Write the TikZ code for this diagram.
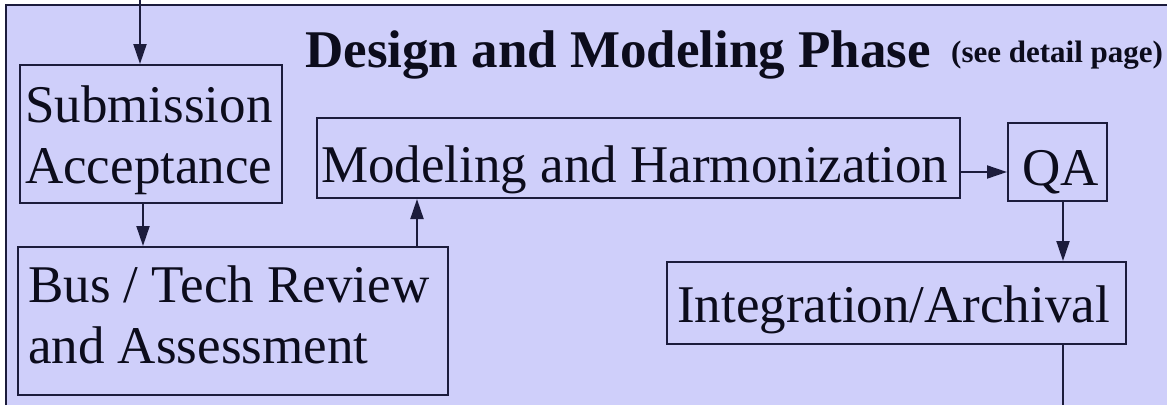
\documentclass[tikz,border=0pt]{standalone}
\usepackage{fontspec}
\setmainfont{Liberation Serif}
\usetikzlibrary{arrows.meta}
\definecolor{bgclr}{RGB}{207,207,250}
\definecolor{lineclr}{RGB}{28,28,60}
\definecolor{txtclr}{RGB}{12,12,28}
\begin{document}
\begin{tikzpicture}[x=1pt,y=-1pt,
  box/.style={draw=lineclr, line width=2pt, rectangle, inner sep=0pt},
  lbl/.style={text=txtclr, inner sep=0pt, anchor=base west, font=\fontsize{53}{61}\selectfont},
  arr/.style={draw=lineclr, line width=2pt, -{Triangle[length=20pt,width=13pt]}},
  plain/.style={draw=lineclr, line width=2pt}]
\fill[white] (0,0) rectangle (1167,405);
\useasboundingbox (0,0) rectangle (1167,405);
\fill[bgclr] (6,5) rectangle (1167,405);
\draw[plain] (6,405) -- (6,5) -- (1167,5);
% boxes
\node[box, minimum width=262pt, minimum height=138pt] (sub) at (151,134) {};
\node[box, minimum width=430pt, minimum height=148pt] (bus) at (233,321) {};
\node[box, minimum width=643pt, minimum height=80pt] (mh) at (638.5,158) {};
\node[box, minimum width=99pt, minimum height=78pt] (qa) at (1057.5,162) {};
\node[box, minimum width=459pt, minimum height=82pt] (int) at (896.5,303) {};
% texts
\node[lbl] (subA) at (25,122) {Submission};
\node[lbl] (subB) at (25,183) {Acceptance};
\node[lbl] (busA) at (28,302) {Bus / Tech Review};
\node[lbl] (busB) at (28,363) {and Assessment};
\node[lbl] (mhT) at (321,182) {Modeling and Harmonization};
\node[lbl] (qaT) at (1022,185) {QA};
\node[lbl] (intT) at (677,322) {Integration/Archival};
\node[text=txtclr, inner sep=0pt, anchor=base west, font=\bfseries\fontsize{53}{60}\selectfont] (title) at (305,67) {Design and Modeling Phase};
\node[text=txtclr, inner sep=0pt, anchor=base west, font=\bfseries\fontsize{31}{36}\selectfont] (see) at (951,62) {(see detail page)};
% connectors
\coordinate (top) at (140,0);
\coordinate (c1) at (143,0);
\coordinate (c2) at (417,0);
\coordinate (r1) at (0,172);
\coordinate (c3) at (1063,0);
\coordinate (out) at (1063,405);
\draw[arr] (top) -- (top |- sub.north);
\draw[arr] (c1 |- sub.south) -- (c1 |- bus.north);
\draw[arr] (c2 |- bus.north) -- (c2 |- mh.south);
\draw[arr] (r1 -| mh.east) -- (r1 -| qa.west);
\draw[arr] (c3 |- qa.south) -- (c3 |- int.north);
\draw[plain] (out |- int.south) -- (out);
\end{tikzpicture}
\end{document}
